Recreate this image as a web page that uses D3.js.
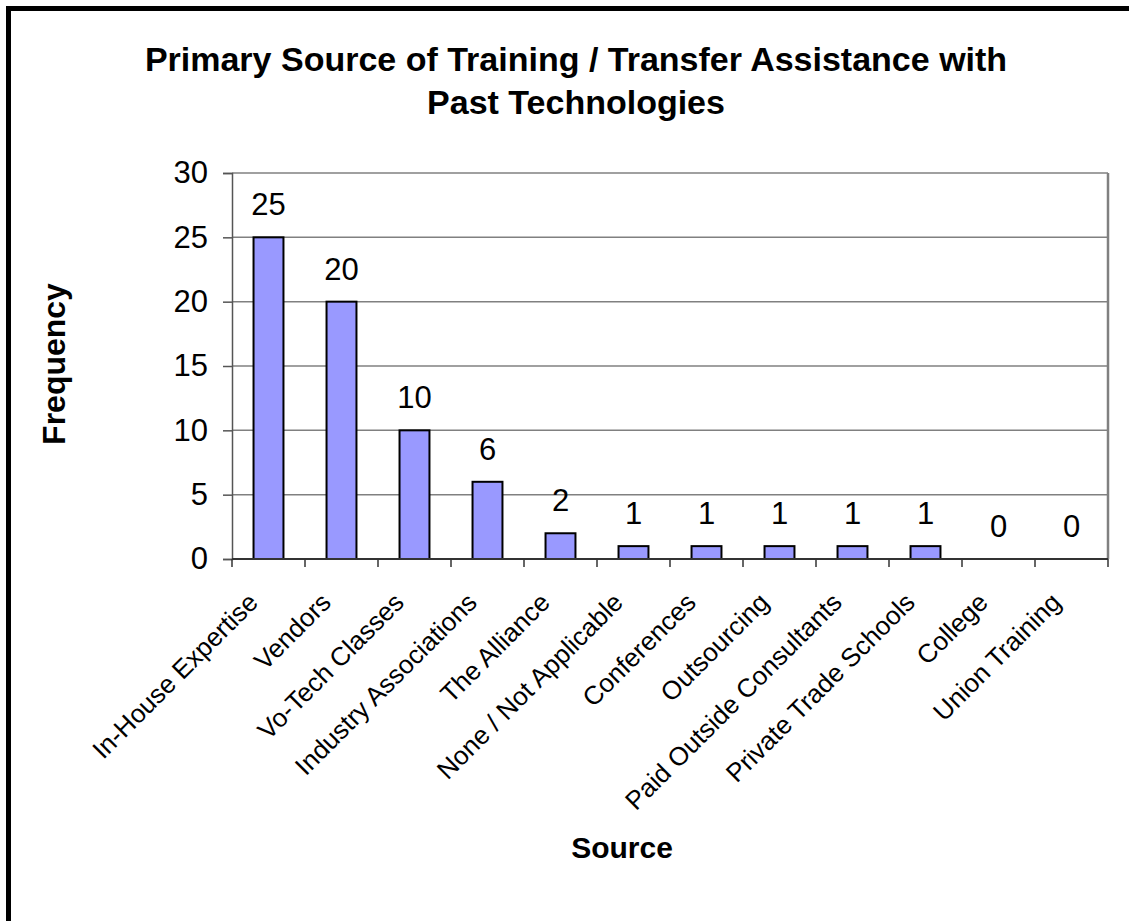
<!DOCTYPE html>
<html>
<head>
<meta charset="utf-8">
<script src="https://cdn.jsdelivr.net/npm/d3@7"></script>
<style>
  html, body { margin: 0; padding: 0; background: #fff; overflow: hidden; }
  svg text { font-family: Arial, "Liberation Sans", sans-serif; fill: #000; }
</style>
</head>
<body>
<svg id="chart" width="1129" height="921"></svg>
<script>
// Survey responses: primary source of training / transfer assistance
const categories = [
  "In-House Expertise", "Vendors", "Vo-Tech Classes", "Industry Associations",
  "The Alliance", "None / Not Applicable", "Conferences", "Outsourcing",
  "Paid Outside Consultants", "Private Trade Schools", "College", "Union Training"
];
const frequencies = [25, 20, 10, 6, 2, 1, 1, 1, 1, 1, 0, 0];
const yTicks = [0, 5, 10, 15, 20, 25, 30];
const titleLines = ["Primary Source of Training / Transfer Assistance with", "Past Technologies"];
const yTitle = "Frequency";
const xTitle = "Source";

const svg = d3.select("#chart");

// outer frame (right/bottom edges run past the page)
svg.append("rect")
  .attr("x", 8.5).attr("y", 8.5)
  .attr("width", 1300).attr("height", 1100)
  .attr("fill", "#fff").attr("stroke", "#000").attr("stroke-width", 5);

const plot = { left: 232, right: 1108, top: 173, bottom: 559 };

const x = d3.scaleBand()
  .domain(categories)
  .range([plot.left, plot.right])
  .paddingInner(0.59).paddingOuter(0.295);

const xTicks = d3.scaleBand().domain(categories).range([plot.left, plot.right]);

const y = d3.scaleLinear().domain([0, 30]).range([plot.bottom, plot.top]);

// horizontal gridlines
svg.append("g")
  .selectAll("line")
  .data(yTicks.filter(d => d > 0))
  .join("line")
  .attr("x1", plot.left).attr("x2", plot.right)
  .attr("y1", d => y(d)).attr("y2", d => y(d))
  .attr("stroke", "#808080").attr("stroke-width", 1.5);

// right edge of plot area
svg.append("line")
  .attr("x1", plot.right).attr("x2", plot.right)
  .attr("y1", plot.top).attr("y2", plot.bottom)
  .attr("stroke", "#808080").attr("stroke-width", 2.5);

// bars
svg.append("g")
  .selectAll("rect")
  .data(categories.map((c, i) => ({ c, v: frequencies[i] })))
  .join("rect")
  .attr("x", d => x(d.c))
  .attr("y", d => y(d.v))
  .attr("width", x.bandwidth())
  .attr("height", d => y(0) - y(d.v))
  .attr("fill", "#9999FF")
  .attr("stroke", "#000").attr("stroke-width", 2);

// y axis
const yAxis = svg.append("g")
  .attr("transform", `translate(${plot.left},0)`)
  .call(d3.axisLeft(y).tickValues(yTicks).tickSize(9).tickPadding(15).tickFormat(d3.format("d")));
yAxis.select(".domain").attr("stroke", "#555").attr("stroke-width", 1.5);
yAxis.selectAll(".tick line").attr("stroke", "#555").attr("stroke-width", 1.5);
yAxis.selectAll(".tick text").attr("font-size", 31).attr("fill", "#000");

// x axis with ticks between categories
const xAxisG = svg.append("g");
xAxisG.append("line")
  .attr("x1", plot.left).attr("x2", plot.right)
  .attr("y1", plot.bottom).attr("y2", plot.bottom)
  .attr("stroke", "#333").attr("stroke-width", 2);
const boundaries = categories.map(c => xTicks(c)).concat([plot.right]);
xAxisG.selectAll("line.tk")
  .data(boundaries)
  .join("line").attr("class", "tk")
  .attr("x1", d => d).attr("x2", d => d)
  .attr("y1", plot.bottom).attr("y2", plot.bottom + 8)
  .attr("stroke", "#333").attr("stroke-width", 1.5);

// rotated category labels
xAxisG.selectAll("text")
  .data(categories)
  .join("text")
  .attr("transform", d => `translate(${x(d) + x.bandwidth() / 2 - 9},${plot.bottom + 45}) rotate(-45)`)
  .attr("text-anchor", "end")
  .attr("font-size", 26)
  .text(d => d);

// value labels above bars
svg.append("g")
  .selectAll("text")
  .data(categories.map((c, i) => ({ c, v: frequencies[i] })))
  .join("text")
  .attr("x", d => x(d.c) + x.bandwidth() / 2)
  .attr("y", d => y(d.v) - 22)
  .attr("text-anchor", "middle")
  .attr("font-size", 31)
  .text(d => d.v);

// title
svg.append("text")
  .attr("x", 576).attr("y", 71)
  .attr("text-anchor", "middle")
  .attr("font-size", 34).attr("font-weight", "bold")
  .selectAll("tspan")
  .data(titleLines)
  .join("tspan")
  .attr("x", 576)
  .attr("dy", (d, i) => i === 0 ? 0 : 43)
  .text(d => d);

// axis titles
svg.append("text")
  .attr("transform", "translate(65,364) rotate(-90)")
  .attr("text-anchor", "middle")
  .attr("font-size", 32).attr("font-weight", "bold")
  .text(yTitle);

svg.append("text")
  .attr("x", 622).attr("y", 858)
  .attr("text-anchor", "middle")
  .attr("font-size", 30).attr("font-weight", "bold")
  .text(xTitle);
</script>
</body>
</html>
